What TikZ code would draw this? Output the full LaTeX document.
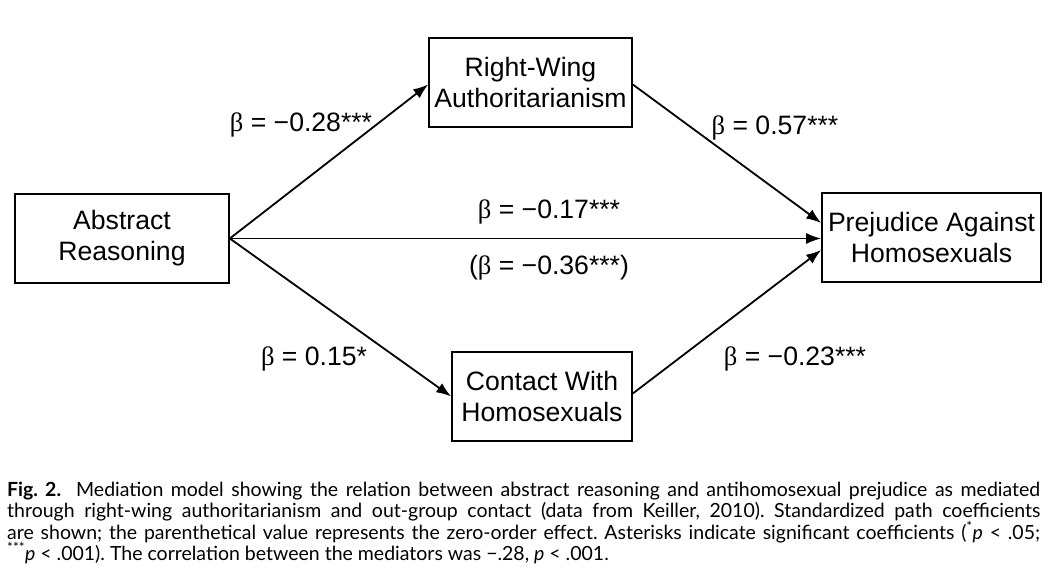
\documentclass[tikz,border=0pt]{standalone}
\usepackage{fontspec}
\setmainfont{Liberation Sans}
\newfontfamily\capfont{Lato}
\newfontfamily\betafont{Liberation Serif}
\newcommand{\bet}{{\betafont β}}
\usetikzlibrary{arrows.meta}
\tikzset{
  varbox/.style={draw=black, line width=1.6pt, minimum height=89pt, align=center, inner sep=0pt,
    font=\fontsize{26.6}{31}\selectfont},
  conn/.style={line width=1.8pt, -{Latex[length=15pt,width=11pt]}},
  coef/.style={font=\fontsize{26.6}{31}\selectfont, anchor=base, inner sep=0pt},
  capline/.style={anchor=base west, inner sep=0pt, font=\capfont\fontsize{19.5}{22}\selectfont\frenchspacing}
}
\begin{document}
\begin{tikzpicture}[x=1pt,y=-1pt]
\useasboundingbox (0,0) rectangle (1058,585);
\node[varbox, minimum width=214pt] (AR) at (122,238.5) {Abstract\\Reasoning};
\node[varbox, minimum width=203pt] (RWA) at (530.5,82.5) {Right-Wing\\Authoritarianism};
\node[varbox, minimum width=219pt] (PR) at (931.5,237.5) {Prejudice Against\\Homosexuals};
\node[varbox, minimum width=180pt] (CW) at (542,396.5) {Contact With\\Homosexuals};

\draw[conn] (AR.east) -- ([yshift=-2pt]RWA.west);
\draw[conn] (AR.east) -- (CW.west);
\draw[conn] (AR.east) -- (AR.east -| PR.west);
\draw[conn] ([yshift=-2pt]RWA.east) -- ([yshift=14.5pt]PR.west);
\draw[conn] ([yshift=3pt]CW.east) -- ([yshift=-12.5pt]PR.west);

\node[coef] (c1) at (301,132) {\bet{} = −0.28***};
\node[coef] (c2) at (775,135) {\bet{} = 0.57***};
\node[coef] (c3) at (549,219) {\bet{} = −0.17***};
\node[coef] (c4) at (549,275) {(\bet{} = −0.36***)};
\node[coef] (c5) at (314,366) {\bet{} = 0.15*};
\node[coef] (c6) at (795,366) {\bet{} = −0.23***};

\node[capline] (l1) at (7,496) {\makebox[1033pt][s]{\textbf{Fig. 2.}\ \ Mediation model showing the relation between abstract reasoning and antihomosexual prejudice as mediated}};
\node[capline] (l2) at (7,517.5) {\makebox[1033pt][s]{through right-wing authoritarianism and out-group contact (data from Keiller, 2010). Standardized path coefficients}};
\node[capline] (l3) at (7,539) {\makebox[1033pt][s]{are shown; the parenthetical value represents the zero-order effect. Asterisks indicate significant coefficients (\textsuperscript{*}\textit{p} < .05;}};
\node[capline] (l4) at (7,560.5) {\textsuperscript{***}\textit{p} < .001). The correlation between the mediators was −.28, \textit{p} < .001.};
\end{tikzpicture}
\end{document}
